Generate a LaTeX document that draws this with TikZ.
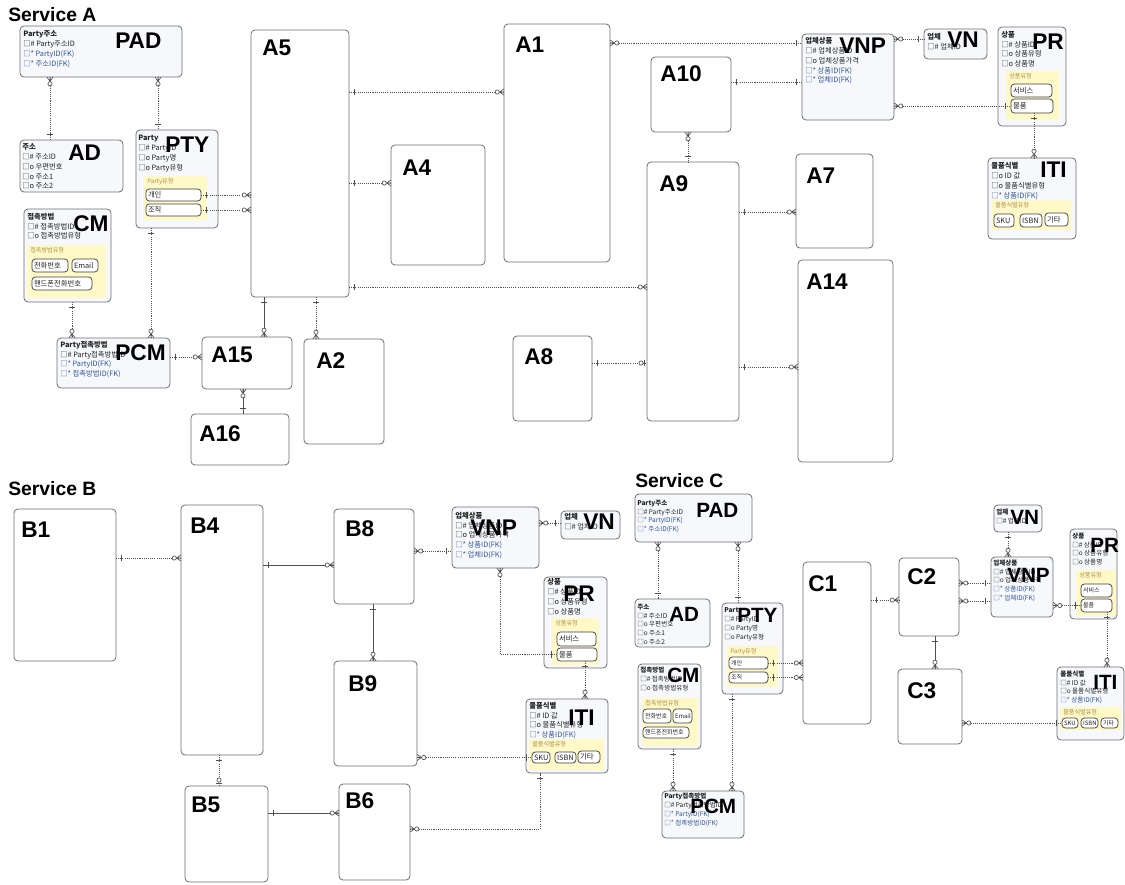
\documentclass[tikz,border=0pt]{standalone}
\usepackage{fontspec}
\setmainfont{Liberation Sans}
\newfontfamily\kr{Noto Sans CJK KR}
\usetikzlibrary{decorations.markings}
\definecolor{bord}{HTML}{6E6E6E}
\definecolor{efill}{HTML}{F6F8FC}
\definecolor{yfill}{HTML}{FFF9C8}
\definecolor{fk}{HTML}{2F5597}
\definecolor{txt}{HTML}{222222}
\definecolor{ytxt}{HTML}{B09050}
\definecolor{lnc}{HTML}{505050}
\newcommand\mkbox[6][ebox]{\node[#1,minimum width={(#5-#3)*0.75pt},minimum height={(#6-#4)*0.75pt}] (#2) at ({(#3+#5)/2},{(#4+#6)/2}) {};}
\newcommand\mkybox[6]{\node[ybox,minimum width={(#4-#2)*0.75pt},minimum height={(#5-#3)*0.75pt}] (#1) at ({(#2+#4)/2},{(#3+#5)/2}) {};
\node[ytl] (#1t) at ({#2+3},{#3+2.5}) {#6};}
\newcommand\mkpill[7][pill]{\pgfmathsetlengthmacro\pw{(#5-#3)*0.75pt-3pt}\node[#1,text width=\pw,minimum height={(#6-#4)*0.75pt}] (#2) at ({(#3+#5)/2},{(#4+#6)/2}) {#7};}
\newcommand\mkatt[5][attA]{\node[#1] (#2) at (#3,{#4-6.5}) {\rule{0pt}{4.9pt}#5};}
\newcommand\mklab[5][big]{\node[#1] (#2) at (#3,#4) {#5};}
\tikzset{
 ebox/.style={draw=bord,line width=0.6pt,rounded corners=3pt,fill=efill,inner sep=0,outer sep=0},
 wbox/.style={ebox,fill=white},
 ybox/.style={fill=yfill,inner sep=0,outer sep=0,draw=none},
 pill/.style={draw=black!75,fill=white,line width=0.55pt,rounded corners=2.5pt,inner xsep=1.5pt,inner ysep=0,outer sep=0,align=left,font=\kr\fontsize{5.5}{6}\selectfont,text=txt},
 pillc/.style={pill,font=\kr\fontsize{4.5}{5}\selectfont},
 big/.style={anchor=north west,inner sep=0,font=\fontsize{17}{17}\selectfont\bfseries,text=black},
 bigc/.style={big,font=\fontsize{15.5}{15.5}\selectfont\bfseries},
 ttl/.style={anchor=north west,inner sep=0,font=\fontsize{14.5}{14.5}\selectfont\bfseries},
 attA/.style={anchor=north west,inner sep=0,align=left,font=\kr\fontsize{5.5}{7.3}\selectfont,text=txt},
 attC/.style={attA,font=\kr\fontsize{4.9}{6.6}\selectfont},
 ytl/.style={anchor=north west,inner sep=0,font=\kr\fontsize{4.6}{5}\selectfont,text=ytxt},
 conn/.style={draw=lnc,line width=0.5pt,dash pattern=on 0.8pt off 0.8pt},
 solidc/.style={draw=lnc,line width=0.6pt},
 sOne/.style={postaction={decorate,decoration={markings,mark=at position 4pt with {\draw[solid,lnc,line width=0.5pt] (0pt,-2.6pt)--(0pt,2.6pt);}}}},
 eOne/.style={postaction={decorate,decoration={markings,mark=at position -4pt with {\draw[solid,lnc,line width=0.5pt] (0pt,-2.6pt)--(0pt,2.6pt);}}}},
 eMany/.style={postaction={decorate,decoration={markings,mark=at position -0.05pt with {\draw[solid,lnc,line width=0.5pt] (-3.2pt,0pt)--(0pt,2.3pt) (-3.2pt,0pt)--(0pt,-2.3pt) (-3.2pt,0pt)--(0pt,0pt); \draw[solid,lnc,line width=0.5pt,fill=white] (-5pt,0pt) circle (1.6pt);}}}},
 sMany/.style={postaction={decorate,decoration={markings,mark=at position 0.05pt with {\draw[solid,lnc,line width=0.5pt] (3.2pt,0pt)--(0pt,2.3pt) (3.2pt,0pt)--(0pt,-2.3pt) (3.2pt,0pt)--(0pt,0pt); \draw[solid,lnc,line width=0.5pt,fill=white] (5pt,0pt) circle (1.6pt);}}}},
 eZO/.style={postaction={decorate,decoration={markings,mark=at position -0.05pt with {\draw[solid,lnc,line width=0.5pt] (-1.6pt,-2.4pt)--(-1.6pt,2.4pt); \draw[solid,lnc,line width=0.5pt,fill=white] (-4.4pt,0pt) circle (1.6pt);}}}}
}
\begin{document}
\begin{tikzpicture}[x=0.75pt,y=-0.75pt]
\useasboundingbox (0,0) rectangle (1125,885);
% titles
\node[ttl] (tA) at (8,7) {Service A};
\node[ttl] (tB) at (8,481) {Service B};
\node[ttl] (tC) at (635,473) {Service C};
% ---------------- Service A boxes
\mkbox{APAD}{20}{26}{182}{77}
\mkbox{AAD}{20}{140}{123}{192}
\mkbox{APTY}{136}{130}{218}{228}
\mkbox{ACM}{24}{209}{111}{302}
\mkbox{APCM}{57}{338}{170}{388}
\mkbox[wbox]{A5}{251}{30}{349}{297}
\mkbox[wbox]{A1}{504}{24}{610}{262}
\mkbox[wbox]{A4}{391}{145}{485}{265}
\mkbox[wbox]{A10}{651}{57}{731}{132}
\mkbox[wbox]{A9}{647}{162}{739}{421}
\mkbox[wbox]{A7}{796}{154}{873}{248}
\mkbox[wbox]{A14}{798}{260}{893}{462}
\mkbox[wbox]{A15}{202}{337}{292}{389}
\mkbox[wbox]{A2}{304}{339}{384}{444}
\mkbox[wbox]{A16}{191}{414}{289}{465}
\mkbox[wbox]{A8}{513}{336}{592}{421}
\mkbox{AVNP}{802}{34}{894}{120}
\mkbox{AVN}{924}{29}{987}{59}
\mkbox{APR}{998}{27}{1066}{126}
\mkbox{AITI}{988}{158}{1076}{239}
\mkybox{APTYy}{144}{176}{207}{220}{Party유형}
\mkybox{ACMy}{27}{245}{106}{298}{접촉방법유형}
\mkybox{APRy}{1006}{71}{1059}{120}{상품유형}
\mkybox{AITIy}{992}{200}{1071}{230}{물품식별유형}
\mkpill{Apty1}{146}{189}{201}{201}{개인}
\mkpill{Apty2}{146}{204}{201}{216}{조직}
\mkpill{Acm1}{32}{259}{68}{272}{전화번호}
\mkpill{Acm2}{72}{259}{98}{272}{Email}
\mkpill{Acm3}{32}{277}{92}{290}{핸드폰전화번호}
\mkpill{Apr1}{1011}{84}{1052}{97}{서비스}
\mkpill{Apr2}{1011}{99}{1053}{113}{물품}
\mkpill{Asku}{994}{214}{1014}{227}{SKU}
\mkpill{Aisbn}{1020}{214}{1042}{227}{ISBN}
\mkpill{Agt}{1045}{213}{1068}{226}{기타}
\mkatt{APADa}{23}{36.5}{\textbf{Party주소}\\□\# Party주소ID\\{\color{fk}□* PartyID(FK)}\\{\color{fk}□* 주소ID(FK)}}
\mkatt{AADa}{22}{149.5}{\textbf{주소}\\□\# 주소ID\\□o 우편번호\\□o 주소1\\□o 주소2}
\mkatt{APTYa}{138}{140.5}{\textbf{Party}\\□\# PartyID\\□o Party명\\□o Party유형}
\mkatt{ACMa}{27}{219}{\textbf{접촉방법}\\□\# 접촉방법ID\\□o 접촉방법유형}
\mkatt{APCMa}{60}{347}{\textbf{Party접촉방법}\\□\# Party접촉방법ID\\{\color{fk}□* PartyID(FK)}\\{\color{fk}□* 접촉방법ID(FK)}}
\mkatt{AVNPa}{805}{43.5}{\textbf{업체상품}\\□\# 업체상품ID\\□o 업체상품가격\\{\color{fk}□* 상품ID(FK)}\\{\color{fk}□* 업체ID(FK)}}
\mkatt{AVNa}{927}{39.5}{\textbf{업체}\\□\# 업체ID}
\mkatt{APRa}{1001}{37}{\textbf{상품}\\□\# 상품ID\\□o 상품유형\\□o 상품명}
\mkatt{AITIa}{991}{168.5}{\textbf{물품식별}\\□o ID 값\\□o 물품식별유형\\{\color{fk}□* 상품ID(FK)}}
\mklab{APADl}{115}{33}{PAD}
\mklab{AADl}{68}{145}{AD}
\mklab{APTYl}{165}{137}{PTY}
\mklab{ACMl}{73}{215}{CM}
\mklab{APCMl}{115}{344}{PCM}
\mklab{A5l}{262}{40}{A5}
\mklab{A1l}{515}{37}{A1}
\mklab{A4l}{402}{160}{A4}
\mklab{A10l}{660}{65}{A10}
\mklab{A9l}{659}{175}{A9}
\mklab{A7l}{806}{168}{A7}
\mklab{A14l}{806}{274}{A14}
\mklab{A15l}{211}{347}{A15}
\mklab{A2l}{316}{352}{A2}
\mklab{A16l}{199}{425}{A16}
\mklab{A8l}{524}{348}{A8}
\mklab{AVNPl}{839}{38}{VNP}
\mklab{AVNl}{947}{32}{VN}
\mklab{APRl}{1032}{34}{PR}
\mklab{AITIl}{1040}{162}{ITI}
% ---------------- Service B boxes
\mkbox[wbox]{B1}{14}{509}{116}{661}
\mkbox[wbox]{B4}{181}{505}{263}{755}
\mkbox[wbox]{B8}{334}{509}{414}{604}
\mkbox[wbox]{B9}{334}{661}{417}{766}
\mkbox[wbox]{B5}{185}{786}{268}{882}
\mkbox[wbox]{B6}{339}{784}{410}{880}
\mkbox{BVNP}{452}{507}{539}{568}
\mkbox{BVN}{561}{511}{620}{539}
\mkbox{BPR}{544}{577}{607}{668}
\mkbox{BITI}{526}{699}{608}{773}
\mkybox{BPRy}{552}{618}{599}{665}{상품유형}
\mkybox{BITIy}{529}{739}{604}{770}{물품식별유형}
\mkpill{Bpr1}{557}{632}{596}{646}{서비스}
\mkpill{Bpr2}{557}{648}{597}{661}{물품}
\mkpill{Bsku}{532}{752}{550}{763}{SKU}
\mkpill{Bisbn}{555}{752}{576}{763}{ISBN}
\mkpill{Bgt}{578}{751}{600}{763}{기타}
\mkatt{BVNPa}{455}{518}{\textbf{업체상품}\\□\# 업체상품ID\\□o 업체상품가격\\{\color{fk}□* 상품ID(FK)}\\{\color{fk}□* 업체ID(FK)}}
\mkatt{BVNa}{564}{519.5}{\textbf{업체}\\□\# 업체ID}
\mkatt{BPRa}{547}{584.5}{\textbf{상품}\\□\# 상품ID\\□o 상품유형\\□o 상품명}
\mkatt{BITIa}{529}{708}{\textbf{물품식별}\\□\# ID 값\\□o 물품식별유형\\{\color{fk}□* 상품ID(FK)}}
\mklab{B1l}{21}{522}{B1}
\mklab{B4l}{190}{518}{B4}
\mklab{B8l}{345}{520}{B8}
\mklab{B9l}{348}{675}{B9}
\mklab{B5l}{191}{797}{B5}
\mklab{B6l}{345}{792}{B6}
\mklab{BVNPl}{470}{520}{VNP}
\mklab{BVNl}{583}{514}{VN}
\mklab{BPRl}{563}{586}{PR}
\mklab{BITIl}{568}{710}{ITI}
% ---------------- Service C boxes
\mkbox{CPAD}{635}{494}{752}{542}
\mkbox{CAD}{635}{599}{710}{647}
\mkbox{CPTY}{722}{603}{783}{694}
\mkbox{CCM}{638}{664}{701}{749}
\mkbox{CPCM}{662}{791}{744}{838}
\mkbox[wbox]{C1}{803}{562}{871}{724}
\mkbox[wbox]{C2}{899}{558}{959}{636}
\mkbox[wbox]{C3}{898}{669}{962}{744}
\mkbox{CVNP}{991}{557}{1053}{617}
\mkbox{CVN}{994}{505}{1042}{532}
\mkbox{CPR}{1070}{529}{1117}{619}
\mkbox{CITI}{1057}{667}{1124}{740}
\mkybox{CPTYy}{727}{646}{778}{687}{Party유형}
\mkybox{CCMy}{642}{698}{698}{746}{접촉방법유형}
\mkybox{CPRy}{1076}{570}{1116}{616}{상품유형}
\mkybox{CITIy}{1060}{707}{1121}{730}{물품식별유형}
\mkpill[pillc]{Cpty1}{729}{657}{768}{669}{개인}
\mkpill[pillc]{Cpty2}{729}{672}{768}{683}{조직}
\mkpill[pillc]{Ccm1}{643}{709}{671}{723}{전화번호}
\mkpill[pillc]{Ccm2}{673}{709}{692}{723}{Email}
\mkpill[pillc]{Ccm3}{643}{727}{689}{738}{핸드폰전화번호}
\mkpill[pillc]{Cpr1}{1081}{584}{1112}{597}{서비스}
\mkpill[pillc]{Cpr2}{1081}{599}{1112}{612}{물품}
\mkpill[pillc]{Csku}{1062}{718}{1078}{728}{SKU}
\mkpill[pillc]{Cisbn}{1081}{718}{1098}{728}{ISBN}
\mkpill[pillc]{Cgt}{1101}{718}{1118}{728}{기타}
\mkatt[attC]{CPADa}{637}{505}{\textbf{Party주소}\\□\# Party주소ID\\{\color{fk}□* PartyID(FK)}\\{\color{fk}□* 주소ID(FK)}}
\mkatt[attC]{CADa}{637}{609}{\textbf{주소}\\□\# 주소ID\\□o 우편번호\\□o 주소1\\□o 주소2}
\mkatt[attC]{CPTYa}{724}{612.5}{\textbf{Party}\\□\# PartyID\\□o Party명\\□o Party유형}
\mkatt[attC]{CCMa}{640}{672.5}{\textbf{접촉방법}\\□\# 접촉방법ID\\□o 접촉방법유형}
\mkatt[attC]{CPCMa}{664}{798.5}{\textbf{Party접촉방법}\\□\# Party접촉방법ID\\{\color{fk}□* PartyID(FK)}\\{\color{fk}□* 접촉방법ID(FK)}}
\mkatt[attC]{CVNPa}{993}{565}{\textbf{업체상품}\\□\# 업체상품ID\\□o 업체상품가격\\{\color{fk}□* 상품ID(FK)}\\{\color{fk}□* 업체ID(FK)}}
\mkatt[attC]{CVNa}{996}{514}{\textbf{업체}\\□\# 업체ID}
\mkatt[attC]{CPRa}{1072}{538}{\textbf{상품}\\□\# 상품ID\\□o 상품유형\\□o 상품명}
\mkatt[attC]{CITIa}{1060}{676}{\textbf{물품식별}\\□\# ID 값\\□o 물품식별유형\\{\color{fk}□* 상품ID(FK)}}
\mklab[bigc]{CPADl}{696}{503}{PAD}
\mklab[bigc]{CADl}{669}{607}{AD}
\mklab[bigc]{CPTYl}{737}{608}{PTY}
\mklab[bigc]{CCMl}{667}{668}{CM}
\mklab[bigc]{CPCMl}{690}{799}{PCM}
\mklab[bigc]{CVNPl}{1007}{568}{VNP}
\mklab[bigc]{CVNl}{1010}{510}{VN}
\mklab[bigc]{CPRl}{1090}{538}{PR}
\mklab[bigc]{CITIl}{1093}{675}{ITI}
\mklab{C1l}{808}{575}{C1}
\mklab{C2l}{907}{568}{C2}
\mklab{C3l}{907}{682}{C3}
% ---------------- connectors A
\draw[conn,sMany,eOne] (APAD.south -| 50,0) -- (AAD.north -| 50,0);
\draw[conn,sMany,eOne] (APAD.south -| 158,0) -- (APTY.north -| 158,0);
\draw[conn,sOne,eMany] (Apty1.east) -- (A5.west |- Apty1.east);
\draw[conn,sOne,eMany] (Apty2.east) -- (A5.west |- Apty2.east);
\draw[conn,sOne,eMany] (ACM.south -| 72,0) -- (APCM.north -| 72,0);
\draw[conn,sOne,eMany] (APTY.south -| 151,0) -- (APCM.north -| 151,0);
\draw[conn,sOne,eMany] (APCM.east |- 0,357) -- (A15.west |- 0,357);
\draw[solidc,sOne,eMany] (A5.south -| 264,0) -- (A15.north -| 264,0);
\draw[conn,sOne,eMany] (A5.south -| 316,0) -- (A2.north -| 316,0);
\draw[solidc,sMany,eOne] (A15.south -| 243,0) -- (A16.north -| 243,0);
\draw[conn,sOne,eMany] (A5.east |- 0,92) -- (A1.west |- 0,92);
\draw[conn,sOne,eMany] (A5.east |- 0,183) -- (A4.west |- 0,183);
\draw[conn,sOne,eMany] (A5.east |- 0,287) -- (A9.west |- 0,287);
\draw[conn,sMany,eOne] (A1.east |- 0,43) -- (AVNP.west |- 0,43);
\draw[conn,sOne,eOne] (A10.east |- 0,82) -- (AVNP.west |- 0,82);
\draw[conn,sMany,eOne] (AVNP.east |- 0,39) -- (AVN.west |- 0,39);
\draw[conn,sMany,eOne] (AVNP.east |- Apr2.west) -- (Apr2.west);
\draw[conn,sOne,eMany] (Apr2.south -| 1034,0) -- (AITI.north -| 1034,0);
\draw[conn,sMany,eOne] (A10.south -| 688,0) -- (A9.north -| 688,0);
\draw[conn,sOne,eMany] (A9.east |- 0,212) -- (A7.west |- 0,212);
\draw[conn,sOne,eMany] (A9.east |- 0,367) -- (A14.west |- 0,367);
\draw[conn,sOne,eZO] (A8.east |- 0,363) -- (A9.west |- 0,363);
% ---------------- connectors B
\draw[conn,sOne,eMany] (B1.east |- 0,558) -- (B4.west |- 0,558);
\draw[solidc,sOne,eMany] (B4.east |- 0,565) -- (B8.west |- 0,565);
\draw[solidc,sOne,eMany] (B8.south -| 373,0) -- (B9.north -| 373,0);
\draw[conn,sOne,eZO] (B4.south -| 219,0) -- (B5.north -| 219,0);
\draw[solidc,sOne,eMany] (B5.east |- 0,813) -- (B6.west |- 0,813);
\draw[conn,sMany,eOne] (B8.east |- 0,551) -- (BVNP.west |- 0,551);
\draw[conn,sMany,eOne] (BVNP.east |- 0,523) -- (BVN.west |- 0,523);
\draw[conn,sMany,eOne] (BVNP.south -| 500,0) |- (Bpr2.west);
\draw[conn,sOne,eMany] (Bpr2.south -| 585,0) -- (BITI.north -| 585,0);
\draw[conn,sMany,eOne] (B9.east |- Bsku.west) -- (Bsku.west);
\draw[conn,sMany,eOne] (B6.east |- 0,829) -| (BITI.south -| 540,0);
% ---------------- connectors C
\draw[conn,sMany,eOne] (CPAD.south -| 658,0) -- (CAD.north -| 658,0);
\draw[conn,sMany,eOne] (CPAD.south -| 738,0) -- (CPTY.north -| 738,0);
\draw[conn,sOne,eMany] (Cpty1.east) -- (C1.west |- Cpty1.east);
\draw[conn,sOne,eMany] (Cpty2.east) -- (C1.west |- Cpty2.east);
\draw[conn,sOne,eMany] (CCM.south -| 673,0) -- (CPCM.north -| 673,0);
\draw[conn,sOne,eMany] (CPTY.south -| 732,0) -- (CPCM.north -| 732,0);
\draw[conn,sOne,eMany] (C1.east |- 0,600) -- (C2.west |- 0,600);
\draw[solidc,sOne,eMany] (C2.south -| 935,0) -- (C3.north -| 935,0);
\draw[conn,sMany,eOne] (C2.east |- 0,583) -- (CVNP.west |- 0,583);
\draw[conn,sMany,eOne] (C2.east |- 0,601) -- (CVNP.west |- 0,601);
\draw[conn,sMany,eOne] (CVNP.east |- Cpr2.west) -- (Cpr2.west);
\draw[conn,sOne,eMany] (CVN.south -| 1008,0) -- (CVNP.north -| 1008,0);
\draw[conn,sOne,eMany] (Cpr2.south -| 1107,0) -- (CITI.north -| 1107,0);
\draw[conn,sMany,eOne] (C3.east |- Csku.west) -- (Csku.west);
\end{tikzpicture}
\end{document}
